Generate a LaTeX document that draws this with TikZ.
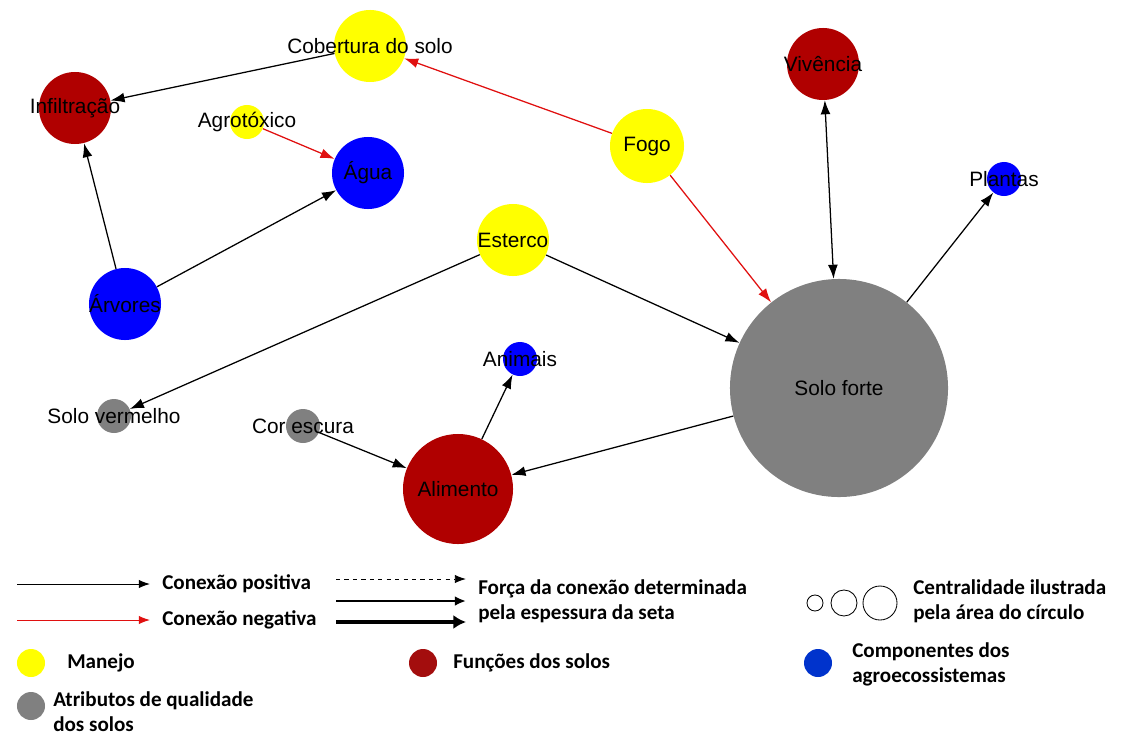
\documentclass[tikz,border=0pt]{standalone}
\usepackage{fontspec}
\setmainfont{Liberation Sans}
\newfontfamily\legfont{Carlito}
\usetikzlibrary{arrows.meta}

\definecolor{manejo}{HTML}{FFFF00}
\definecolor{funcao}{HTML}{B00000}
\definecolor{comp}{HTML}{0000FF}
\definecolor{atrib}{HTML}{808080}
\definecolor{funcaoleg}{HTML}{A30D0D}
\definecolor{compleg}{HTML}{0033CC}
\definecolor{neg}{HTML}{E01010}

\tikzset{
  vert/.style={circle, inner sep=0pt, minimum size=#1*0.05cm},
  poslink/.style={-{Latex[length=10pt,width=7pt]}, line width=0.9pt},
  neglink/.style={poslink, draw=neg, -{Latex[length=10pt,width=7pt,fill=neg]}},
  legtext/.style={anchor=west, align=left, inner sep=0pt,
    font=\legfont\bfseries\fontsize{15}{17.8}\selectfont},
}

\begin{document}
\begin{tikzpicture}[x=0.025cm, y=-0.025cm,
    font=\fontsize{14.8}{17}\selectfont]
    \useasboundingbox (0,0) rectangle (1128,736);

    % 绘制节点
    \node[vert=36, fill=manejo, label=center:Cobertura do solo] (cob) at (370,46) {};
    \node[vert=36, fill=funcao, label=center:Infiltração] (inf) at (75,108) {};
    \node[vert=17, fill=manejo, label=center:Agrotóxico] (agr) at (247,122) {};
    \node[vert=36, fill=comp, label=center:Água] (agua) at (368,173) {};
    \node[vert=37, fill=manejo, label=center:Fogo] (fogo) at (647,146) {};
    \node[vert=36, fill=funcao, label=center:Vivência] (viv) at (823,64) {};
    \node[vert=17, fill=comp, label=center:Plantas] (plan) at (1004,179) {};
    \node[vert=36, fill=manejo, label=center:Esterco] (est) at (513,240) {};
    \node[vert=36, fill=comp, label=center:Árvores] (arv) at (125,304) {};
    \node[vert=109, fill=atrib, label=center:Solo forte] (sf) at (839,388) {};
    \node[vert=17, fill=comp, label=center:Animais] (ani) at (520,359) {};
    \node[vert=17, fill=atrib, label=center:Solo vermelho] (sv) at (114,416) {};
    \node[vert=17, fill=atrib, label=center:Cor escura] (ce) at (303,426) {};
    \node[vert=55, fill=funcao, label=center:Alimento] (ali) at (458,489) {};

    % 绘制连接
    \draw[poslink] (cob) -- (inf);
    \draw[poslink] (arv) -- (inf);
    \draw[poslink] (arv) -- (agua);
    \draw[neglink] (agr) -- (agua);
    \draw[neglink] (fogo) -- (cob);
    \draw[neglink] (fogo) -- (sf);
    \draw[poslink, {Latex[length=10pt,width=7pt]}-{Latex[length=10pt,width=7pt]}] (viv) -- (sf);
    \draw[poslink] (sf) -- (plan);
    \draw[poslink] (est) -- (sf);
    \draw[poslink] (est) -- (sv);
    \draw[poslink] (ce) -- (ali);
    \draw[poslink] (ali) -- (ani);
    \draw[poslink] (sf) -- (ali);

    % 图例：连接
    \coordinate (lp1) at (17,584);  \coordinate (lp2) at (150,584);
    \coordinate (ln1) at (17,620);  \coordinate (ln2) at (150,620);
    \draw[-{Latex[length=8pt,width=6pt]}, line width=0.7pt] (lp1) -- (lp2);
    \draw[-{Latex[length=8pt,width=6pt]}, line width=0.7pt, draw=neg, fill=neg] (ln1) -- (ln2);
    \node[legtext] (tpos) at (162,584) {Conexão positiva};
    \node[legtext] (tneg) at (162,620) {Conexão negativa};

    \coordinate (lf1) at (336,579); \coordinate (lf2) at (466,579);
    \coordinate (lm1) at (336,601); \coordinate (lm2) at (466,601);
    \coordinate (lt1) at (336,622); \coordinate (lt2) at (466,622);
    \draw[dashed, -{Latex[length=8pt,width=6pt]}, line width=0.7pt] (lf1) -- (lf2);
    \draw[-{Latex[length=8pt,width=7pt]}, line width=1.6pt] (lm1) -- (lm2);
    \draw[-{Latex[length=9pt,width=10pt]}, line width=3.2pt] (lt1) -- (lt2);
    \node[legtext] (tforca) at (478,601) {Força da conexão determinada\\pela espessura da seta};

    % 图例：中心性
    \node[vert=8, draw, line width=0.6pt] (c1) at (815,603) {};
    \node[vert=13, draw, line width=0.6pt] (c2) at (844,603) {};
    \node[vert=17, draw, line width=0.6pt] (c3) at (880,603) {};
    \node[legtext] (tcent) at (913,601) {Centralidade ilustrada\\pela área do círculo};

    % 图例：类别
    \node[vert=14, fill=manejo] (kman) at (31,663) {};
    \node[legtext] (tman) at (67,663) {Manejo};
    \node[vert=14, fill=funcaoleg] (kfun) at (423,663) {};
    \node[legtext] (tfun) at (453,663) {Funções dos solos};
    \node[vert=14, fill=compleg] (kcomp) at (818,663) {};
    \node[legtext] (tcomp) at (852,664) {Componentes dos\\agroecossistemas};
    \node[vert=14, fill=atrib] (katr) at (31,706) {};
    \node[legtext] (tatr) at (53,712) {Atributos de qualidade\\dos solos};
\end{tikzpicture}
\end{document}
